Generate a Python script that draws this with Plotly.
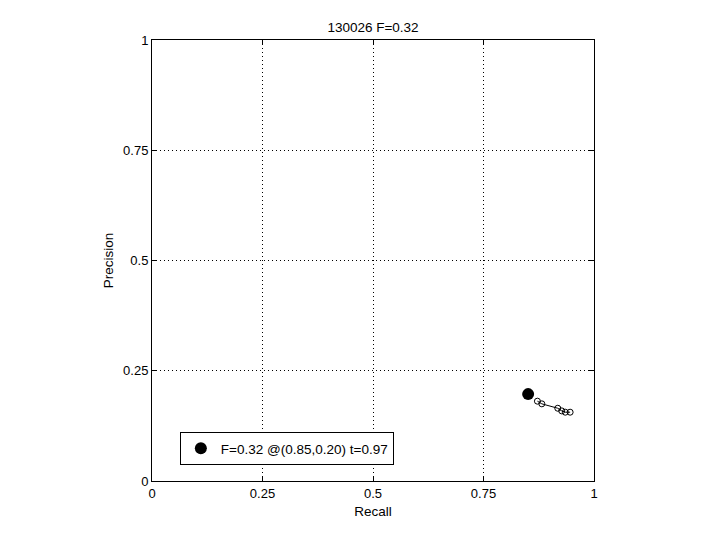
import plotly.graph_objects as go

recall = [0.872, 0.882, 0.918, 0.927, 0.935, 0.946]
precision = [0.181, 0.175, 0.165, 0.159, 0.156, 0.156]
best_recall = [0.851]
best_precision = [0.197]
best_label = "F=0.32 @(0.85,0.20) t=0.97"
title = "130026 F=0.32"
ticks = [0, 0.25, 0.5, 0.75, 1]
tick_text = ["0", "0.25", "0.5", "0.75", "1"]

fig = go.Figure()
fig.add_trace(go.Scatter(
    x=recall, y=precision, mode="lines+markers",
    line=dict(color="black", width=1),
    marker=dict(symbol="circle-open", size=6, color="black", line=dict(width=1, color="black")),
    showlegend=False,
))
fig.add_trace(go.Scatter(
    x=best_recall, y=best_precision, mode="markers",
    marker=dict(symbol="circle", size=12, color="black"),
    name=best_label,
))

axis_common = dict(
    range=[0, 1], tickvals=ticks, ticktext=tick_text,
    showgrid=True, gridcolor="black", griddash="1px,3px", gridwidth=1,
    showline=True, linecolor="black", linewidth=1, mirror="ticks",
    ticks="inside", ticklen=5, tickcolor="black",
    zeroline=False, tickfont=dict(size=13, color="black"),
)

fig.update_layout(
    width=720, height=540,
    margin=dict(l=144, r=134, t=32, b=67),
    paper_bgcolor="white", plot_bgcolor="white",
    font=dict(family="Liberation Sans, Arial, sans-serif", size=13, color="black"),
    title=dict(text=title, x=(144 + 221) / 720, xanchor="center", y=1 - 19/540, yanchor="middle",
               font=dict(size=13.5, color="black")),
    xaxis=dict(title=dict(text="Recall", standoff=6, font=dict(size=13.5)), **axis_common),
    yaxis=dict(title=dict(text="Precision", standoff=6, font=dict(size=13.5)), **axis_common),
    legend=dict(x=0.063, y=0.111, xanchor="left", yanchor="top",
                bordercolor="black", borderwidth=1, bgcolor="white",
                font=dict(size=13.5, color="black")),
    showlegend=True,
)

fig.write_html("out.html")
